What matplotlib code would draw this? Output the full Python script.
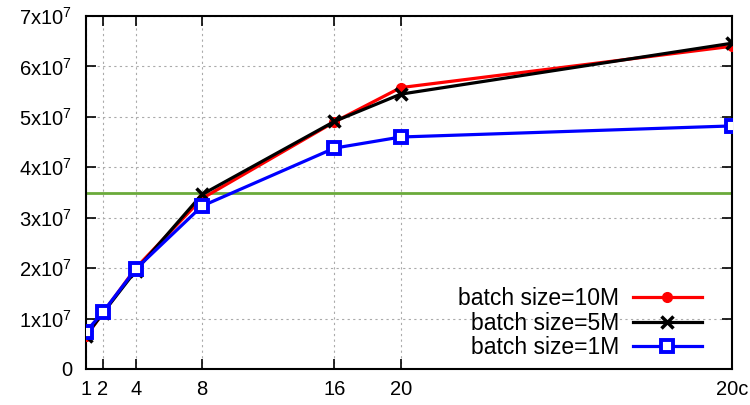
import matplotlib
matplotlib.use("Agg")
import matplotlib.pyplot as plt
from matplotlib.ticker import FuncFormatter

plt.rcParams['font.family'] = ['Liberation Sans', 'DejaVu Sans']
plt.rcParams['mathtext.fontset'] = 'custom'
plt.rcParams['mathtext.rm'] = 'Liberation Sans'

# x positions (20c plotted at 40) and labels
xs = [1, 2, 4, 8, 16, 20, 40]
xlabels = ['1', '2', '4', '8', '16', '20', '20c']

batch_10m = [6.5e6, 1.10e7, 2.00e7, 3.38e7, 4.90e7, 5.58e7, 6.40e7]
batch_5m = [6.6e6, 1.10e7, 1.95e7, 3.46e7, 4.91e7, 5.45e7, 6.46e7]
batch_1m = [7.4e6, 1.12e7, 1.98e7, 3.23e7, 4.38e7, 4.60e7, 4.82e7]
threshold = 3.48e7

fig = plt.figure(figsize=(7.5, 4.05), dpi=100)
ax = fig.add_axes([0.1147, 0.089, 0.8613, 0.8715])

ax.axhline(threshold, color='#6aaa3a', lw=2, zorder=2)
ax.plot(xs, batch_10m, color='red', lw=2.3, marker='o', ms=7,
        label='batch size=10M', zorder=3)
ax.plot(xs, batch_5m, color='black', lw=2.3, marker='x', ms=9, mew=2.5,
        label='batch size=5M', zorder=4)
ax.plot(xs, batch_1m, color='blue', lw=2.3, marker='s', ms=9, mew=2.8,
        mfc='white', mec='blue', label='batch size=1M', zorder=5)

ax.set_xlim(1, 40)
ax.set_ylim(0, 7e7)
ax.set_xticks(xs)
ax.set_xticklabels(xlabels)
ax.set_yticks([i * 1e7 for i in range(8)])

def fmt(v, pos):
    n = int(round(v / 1e7))
    if n == 0:
        return '0'
    return r'$\mathregular{%dx10^{7}}$' % n

ax.yaxis.set_major_formatter(FuncFormatter(fmt))
ax.tick_params(direction='in', length=7, width=1.2, top=True, right=True,
               labelsize=14.5)
ax.tick_params(axis='y', pad=10)
ax.tick_params(axis='x', pad=8)
ax.grid(True, color='#aaaaaa', linestyle=(0, (2, 3)), lw=0.8)
for s in ax.spines.values():
    s.set_linewidth(1.5)

ax.legend(loc='lower right', bbox_to_anchor=(0.967, 0.003), frameon=False,
          markerfirst=False, fontsize=16.5, handlelength=3.0,
          labelspacing=0.05, handletextpad=0.6, borderaxespad=0)

fig.savefig('out.png', dpi=100)
